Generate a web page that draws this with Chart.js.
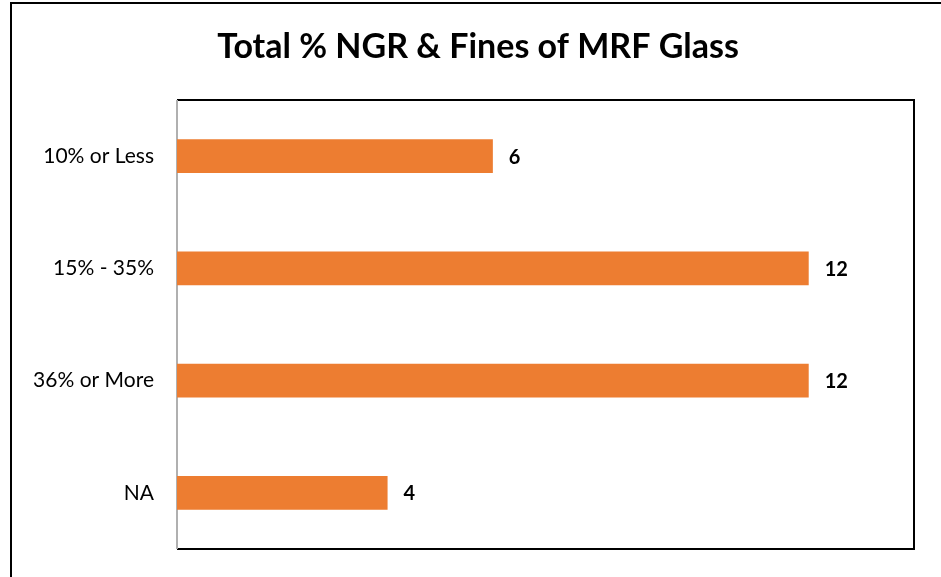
<!DOCTYPE html>
<html>
<head>
<meta charset="utf-8">
<script src="https://cdn.jsdelivr.net/npm/chart.js@4.4.0/dist/chart.umd.min.js"></script>
<style>
  html, body { margin: 0; padding: 0; background: #fff; }
  #wrap { width: 941px; height: 577px; }
</style>
</head>
<body>
<div id="wrap"><canvas id="chart" width="941" height="577"></canvas></div>
<script>
const categories = ['10% or Less', '15% - 35%', '36% or More', 'NA'];
const counts = [6, 12, 12, 4];
const chartTitle = 'Total % NGR & Fines of MRF Glass';

const fontFamily = "Lato, 'Open Sans', sans-serif";

// frame around the whole picture and around the plot area, plus title
const framePlugin = {
    id: 'frame',
    beforeDraw(chart) {
        const ctx = chart.ctx;
        const a = chart.chartArea;
        ctx.save();
        ctx.strokeStyle = '#000';
        ctx.lineWidth = 2;
        ctx.strokeRect(11, 3, 1000, 1000);
        // plot area: top, right, bottom black
        ctx.beginPath();
        ctx.moveTo(a.left, a.top);
        ctx.lineTo(a.right, a.top);
        ctx.lineTo(a.right, a.bottom);
        ctx.lineTo(a.left, a.bottom);
        ctx.stroke();
        // left axis grey
        ctx.strokeStyle = '#b0b0b0';
        ctx.beginPath();
        ctx.moveTo(a.left, a.top);
        ctx.lineTo(a.left, a.bottom);
        ctx.stroke();
        // title, centred a bit right of the canvas middle
        ctx.fillStyle = '#000';
        ctx.font = "bold 34px " + fontFamily;
        ctx.textAlign = 'center';
        ctx.textBaseline = 'middle';
        ctx.fillText(chartTitle, 478, 47);
        ctx.restore();
    }
};

// value labels at the end of each bar
const valueLabels = {
    id: 'valueLabels',
    afterDatasetsDraw(chart) {
        const ctx = chart.ctx;
        const meta = chart.getDatasetMeta(0);
        ctx.save();
        ctx.font = "bold 20px " + fontFamily;
        ctx.fillStyle = '#000';
        ctx.textAlign = 'left';
        ctx.textBaseline = 'middle';
        meta.data.forEach((bar, i) => {
            ctx.fillText(String(counts[i]), bar.x + 16, bar.y + 1);
        });
        ctx.restore();
    }
};

new Chart(document.getElementById('chart'), {
    type: 'bar',
    data: {
        labels: categories,
        datasets: [{
            data: counts,
            backgroundColor: '#ED7D31',
            borderWidth: 0,
            categoryPercentage: 1,
            barPercentage: 0.3
        }]
    },
    options: {
        indexAxis: 'y',
        responsive: false,
        animation: false,
        layout: { padding: { left: 0, right: 27, top: 100, bottom: 28 } },
        scales: {
            x: {
                display: false,
                min: 0,
                max: 14
            },
            y: {
                grid: { display: false, drawTicks: false },
                border: { display: false },
                ticks: {
                    color: '#000',
                    font: { family: fontFamily, size: 21 },
                    padding: 23
                },
                afterFit(scale) {
                    scale.width = 177;
                    scale.paddingTop = 0;
                    scale.paddingBottom = 0;
                }
            }
        },
        plugins: {
            legend: { display: false },
            tooltip: { enabled: false },
            title: { display: false }
        }
    },
    plugins: [framePlugin, valueLabels]
});
</script>
</body>
</html>
